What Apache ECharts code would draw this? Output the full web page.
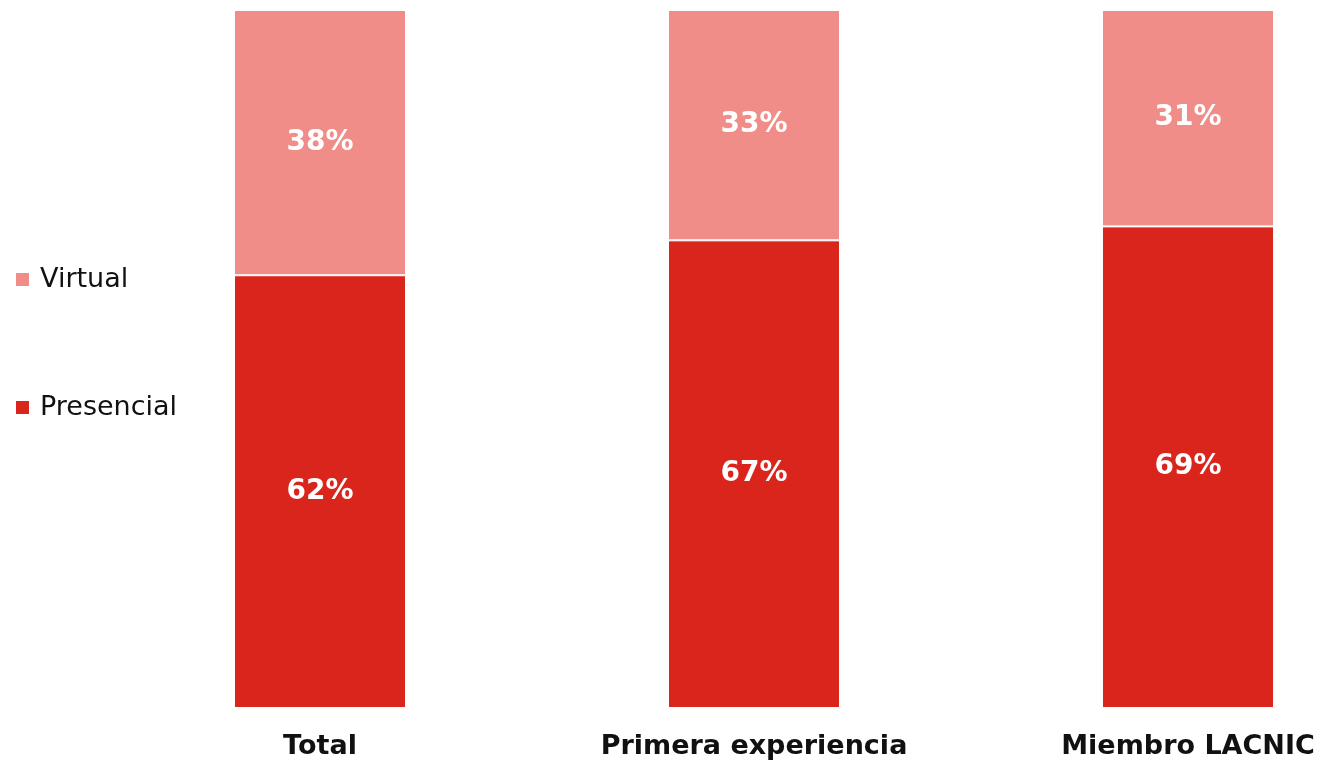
<!DOCTYPE html>
<html>
<head>
<meta charset="utf-8">
<script src="https://cdn.jsdelivr.net/npm/echarts@6/dist/echarts.min.js"></script>
<style>
  html, body { margin: 0; padding: 0; background: #fff; }
  #chart { width: 1317px; height: 764px; }
</style>
</head>
<body>
<div id="chart"></div>
<script>
const categories = ['Total', 'Primera experiencia', 'Miembro LACNIC'];
const presencial = [62, 67, 69];
const virtual = [38, 33, 31];

const chart = echarts.init(document.getElementById('chart'));
const fontFamily = '"DejaVu Sans", sans-serif';

const labelStyle = {
  show: true,
  position: 'inside',
  formatter: '{c}%',
  color: '#fff',
  fontSize: 28,
  fontWeight: 'bold',
  fontFamily: fontFamily
};

const option = {
  animation: false,
  legend: {
    orient: 'vertical',
    left: 9,
    top: 261,
    itemWidth: 15,
    itemHeight: 15,
    itemGap: 101,
    icon: 'rect',
    data: ['Virtual', 'Presencial'],
    textStyle: { fontSize: 27, fontFamily: fontFamily, color: '#111', padding: [0, 0, 0, 5] }
  },
  grid: {
    left: 103,
    width: 1302,
    top: 10,
    bottom: 56,
    outerBoundsMode: 'none'
  },
  xAxis: {
    type: 'category',
    data: categories,
    axisLine: { show: false },
    axisTick: { show: false },
    axisLabel: {
      margin: 25,
      fontSize: 27,
      fontWeight: 'bold',
      color: '#111',
      fontFamily: fontFamily
    }
  },
  yAxis: {
    type: 'value',
    min: 0,
    max: 100,
    show: false
  },
  series: [
    {
      name: 'Presencial',
      type: 'bar',
      stack: 'total',
      barWidth: 172,
      data: presencial,
      itemStyle: { color: '#DA251D', borderColor: '#fff', borderWidth: 1 },
      label: labelStyle
    },
    {
      name: 'Virtual',
      type: 'bar',
      stack: 'total',
      barWidth: 172,
      data: virtual,
      itemStyle: { color: '#F08D88', borderColor: '#fff', borderWidth: 1 },
      label: labelStyle
    }
  ]
};
chart.setOption(option);
</script>
</body>
</html>
